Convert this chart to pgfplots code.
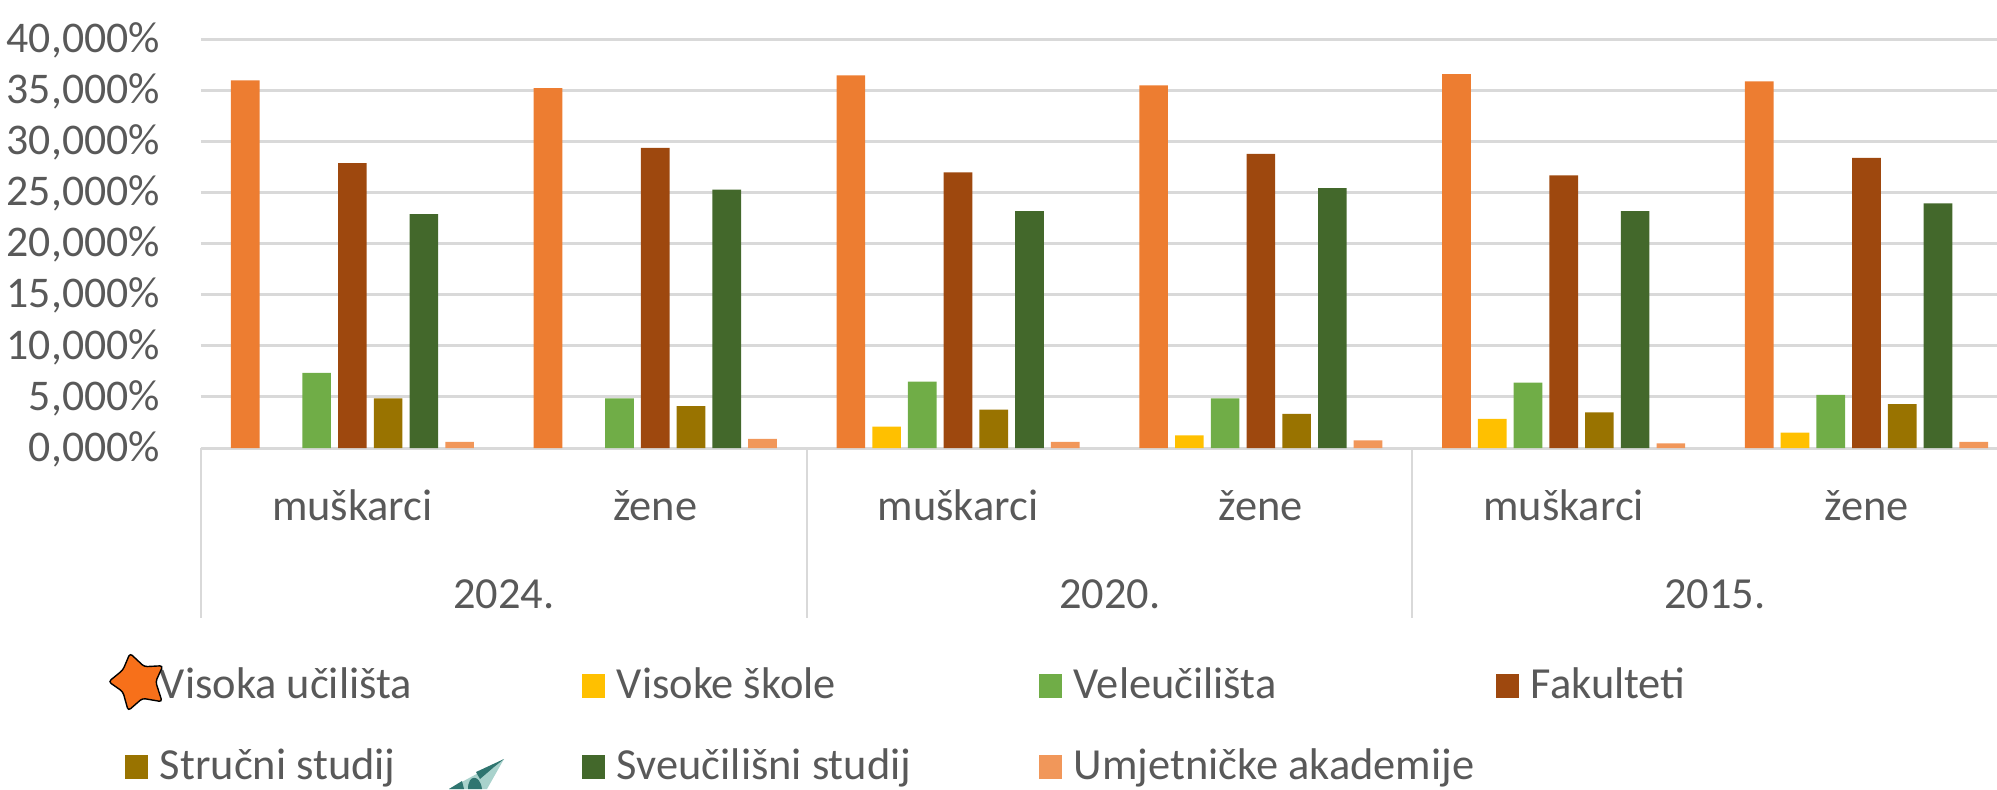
\documentclass[border=0pt]{standalone}
\usepackage{pgfplots}
\pgfplotsset{compat=1.18}
\usepackage{pgfplotstable}
\usepackage{fontspec}
\setmainfont{Carlito}
\definecolor{txt}{HTML}{595959}
\definecolor{gridc}{HTML}{D9D9D9}
\definecolor{c1}{HTML}{ED7D31}
\definecolor{c2}{HTML}{FFC000}
\definecolor{c3}{HTML}{70AD47}
\definecolor{c4}{HTML}{9E480E}
\definecolor{c5}{HTML}{997300}
\definecolor{c6}{HTML}{43682B}
\definecolor{c7}{HTML}{F1975A}
\definecolor{star}{HTML}{F7701A}
\definecolor{tealL}{HTML}{A9D2CC}
\definecolor{tealD}{HTML}{2F7570}
\pgfplotstableread{
x visoka skole vele fak struc sveuc umj
0 36.0 nan  7.35 27.9 4.86 22.9  0.6
1 35.25 nan 4.86 29.4 4.1  25.3  0.9
2 36.5 2.1  6.5  27.0 3.75 23.2  0.6
3 35.5 1.25 4.86 28.8 3.35 25.45 0.75
4 36.6 2.85 6.4  26.7 3.5  23.2  0.45
5 35.9 1.5  5.2  28.4 4.3  23.95 0.6
}\datatable
\newcommand{\lt}[1]{\makebox[217pt][l]{\hspace{6pt}\rule[-6pt]{0pt}{20pt}#1}}
\pgfplotsset{sq/.style={legend image code/.code={\fill[##1] (0pt,-6.5pt) rectangle (11.5pt,5.5pt);}}}
\begin{document}
\begin{tikzpicture}[font=\fontsize{22.2pt}{24pt}\selectfont]
\useasboundingbox (0,0) rectangle (998.5pt,-394.5pt);
\begin{axis}[
  at={(100.5pt,-224pt)},anchor=south west,
  scale only axis,width=898pt,height=204.25pt,
  xmin=-0.5,xmax=5.431,ymin=0,ymax=40,
  axis line style={draw=none},
  major tick length=0pt,
  clip=false,
  ymajorgrids=true,
  grid style={gridc,line width=1.5pt},
  ytick={0,5,...,40},
  yticklabels={{0,000\%},{5,000\%},{10,000\%},{15,000\%},{20,000\%},{25,000\%},{30,000\%},{35,000\%},{40,000\%}},
  xtick={0,1,2,3,4,5},
  xticklabels={muškarci,žene,muškarci,žene,muškarci,žene},
  tick label style={text=txt},
  yticklabel style={xshift=-17pt,yshift=-0.5pt,font=\fontsize{21.9pt}{24pt}\selectfont},
  xticklabel style={yshift=-17.5pt},
  /pgf/number format/assume math mode=true,
  ybar,
  bar width=0.0946,
  legend columns=4,
  legend cell align=left,
  legend style={draw=none,fill=none,at={(-38pt,-109.9pt)},anchor=north west,
    inner sep=0pt,outer sep=0pt,row sep=23.7pt,column sep=0pt,
    nodes={inner sep=0pt,outer sep=0pt,text=txt}},
  ]
\addplot[draw=none,fill=c1,bar shift=-0.354,sq] table[x=x,y=visoka]{\datatable};
\addlegendentry{\lt{Visoka učilišta}}
\addplot[draw=none,fill=c2,bar shift=-0.236,sq] table[x=x,y=skole]{\datatable};
\addlegendentry{\lt{Visoke škole}}
\addplot[draw=none,fill=c3,bar shift=-0.118,sq] table[x=x,y=vele]{\datatable};
\addlegendentry{\lt{Veleučilišta}}
\addplot[draw=none,fill=c4,bar shift=0,sq] table[x=x,y=fak]{\datatable};
\addlegendentry{\lt{Fakulteti}}
\addplot[draw=none,fill=c5,bar shift=0.118,sq] table[x=x,y=struc]{\datatable};
\addlegendentry{\lt{Stručni studij}}
\addplot[draw=none,fill=c6,bar shift=0.236,sq] table[x=x,y=sveuc]{\datatable};
\addlegendentry{\lt{Sveučilišni studij}}
\addplot[draw=none,fill=c7,bar shift=0.354,sq] table[x=x,y=umj]{\datatable};
\addlegendentry{\lt{Umjetničke akademije}}
\end{axis}
\begin{scope}[x=0.5pt,y=-0.5pt]
\draw[gridc,line width=1.2pt] (201,448)--(201,618) (807,448)--(807,618) (1412,448)--(1412,618);
\node[text=txt,anchor=center] at (504,594.5) {2024.};
\node[text=txt,anchor=center] at (1110,594.5) {2020.};
\node[text=txt,anchor=center] at (1715,594.5) {2015.};
\draw[black,line width=0.7pt,fill=star,rounded corners=1.5pt]
  (130,653.3)--(144.3,666.7)--(162.9,665.7)--(155.7,681.7)--(162.1,701.7)--(142.5,698.3)--(128.2,710.7)--(122.9,691.7)--(108.6,681.7)--(122.9,670)--cycle;
\fill[tealL] (504,759)--(449,789)--(487,789)--cycle;
\fill[tealD] (504,759)--(476,772)--(480,779)--(494,767)--cycle;
\fill[tealD] (449,789)--(462,781)--(464,789)--cycle;
\fill[tealD] (468,789) .. controls (468,774) and (480,774) .. (482,789)--cycle;
\end{scope}
\end{tikzpicture}
\end{document}
